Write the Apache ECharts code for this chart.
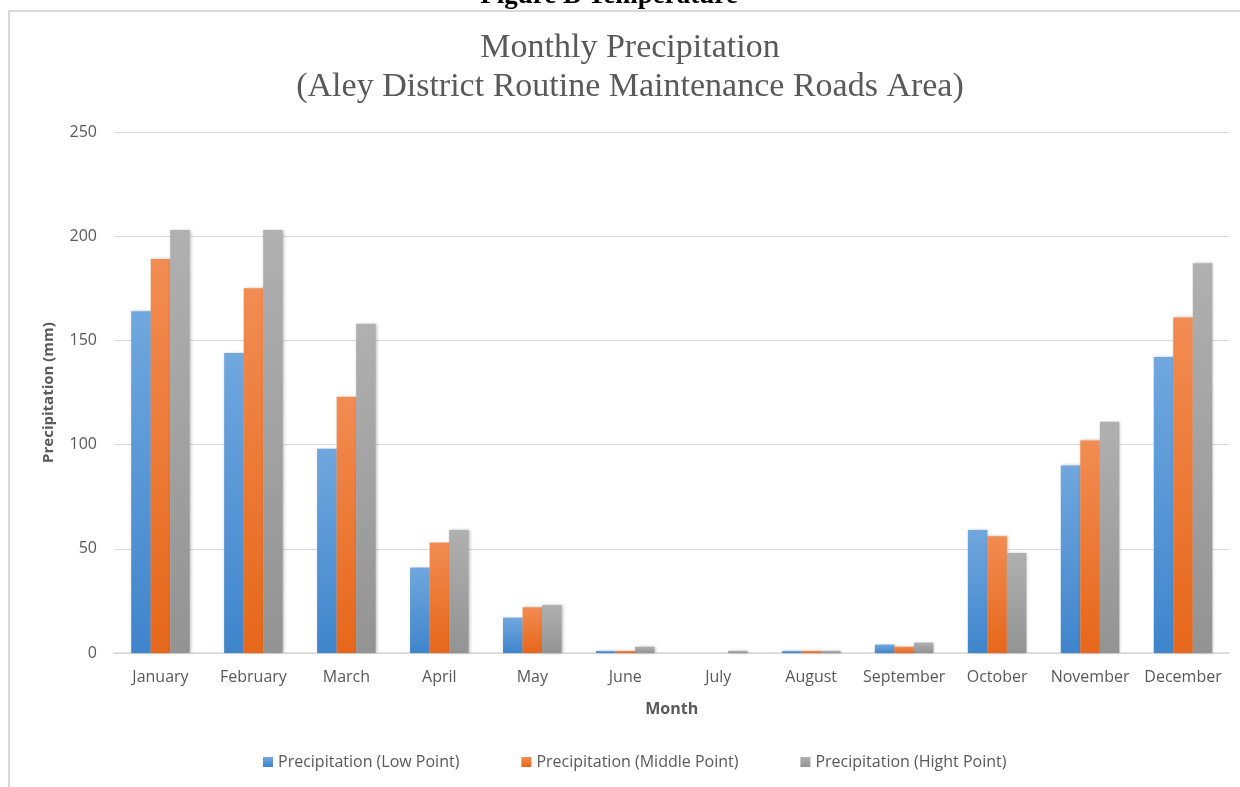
<!DOCTYPE html>
<html>
<head>
<meta charset="utf-8">
<script src="https://cdn.jsdelivr.net/npm/echarts@6/dist/echarts.min.js"></script>
<style>html,body{margin:0;padding:0;background:#fff;}#c{width:1240px;height:787px;}</style>
</head>
<body>
<div id="c"></div>
<script>
const months = ['January','February','March','April','May','June','July','August','September','October','November','December'];
const lowPoint = [164, 144, 98, 41, 17, 1, 0, 1, 4, 59, 90, 142];
const middlePoint = [189, 175, 123, 53, 22, 1, 0, 1, 3, 56, 102, 161];
const highPoint = [203, 203, 158, 59, 23, 3, 1, 1, 5, 48, 111, 187];
const seriesNames = ['Precipitation (Low Point)', 'Precipitation (Middle Point)', 'Precipitation (Hight Point)'];
const yTicks = [0, 50, 100, 150, 200, 250];

function grad(top, bottom) {
  return new echarts.graphic.LinearGradient(0, 0, 0, 1, [
    {offset: 0, color: top}, {offset: 1, color: bottom}
  ]);
}
const chart = echarts.init(document.getElementById('c'));
const barStyle = (t, b) => ({
  color: grad(t, b),
  shadowBlur: 3, shadowColor: 'rgba(0,0,0,0.25)', shadowOffsetX: 1, shadowOffsetY: 0
});
chart.setOption({
  animation: false,
  backgroundColor: '#fff',
  color: ['#5b9bd5', '#ed7d31', '#a5a5a5'],
  graphic: [
    {type: 'rect', shape: {x: 9, y: 11, width: 1400, height: 1000}, style: {fill: 'none', stroke: '#d9d9d9', lineWidth: 2}, z: -1},
    {type: 'text', x: 609, y: 10, style: {text: 'Figure B Temperature', font: 'bold 27px "Liberation Serif"', fill: '#000', textAlign: 'center', textVerticalAlign: 'bottom'}},
    {type: 'text', x: 630, y: 67.5, style: {text: 'Monthly Precipitation\n(Aley District Routine Maintenance Roads Area)', font: '34px "Liberation Serif"', lineHeight: 39, fill: '#595959', textAlign: 'center', textVerticalAlign: 'middle'}}
  ],
  legend: {
    data: seriesNames,
    bottom: 12,
    left: 258,
    itemWidth: 10, itemHeight: 10, itemGap: 62,
    icon: 'rect',
    textStyle: {fontFamily: 'Open Sans', fontSize: 16, color: '#595959'}
  },
  grid: {left: 114, right: 10.5, top: 132, bottom: 134},
  xAxis: {
    type: 'category', data: months,
    name: 'Month', nameLocation: 'middle', nameGap: 48,
    nameTextStyle: {fontFamily: 'Open Sans', fontWeight: 'bold', fontSize: 16, color: '#595959'},
    axisLine: {lineStyle: {color: '#d9d9d9', width: 1.5}},
    axisTick: {show: false},
    axisLabel: {fontFamily: 'Open Sans', fontSize: 16, color: '#595959', margin: 16, interval: 0}
  },
  yAxis: {
    type: 'value', min: 0, max: 250, interval: 50,
    name: 'Precipitation (mm)', nameLocation: 'middle', nameGap: 58, nameRotate: 90,
    nameTextStyle: {fontFamily: 'Open Sans', fontWeight: 'bold', fontSize: 15, color: '#595959'},
    axisLine: {show: false}, axisTick: {show: false},
    axisLabel: {fontFamily: 'Open Sans', fontSize: 16, color: '#595959', margin: 17,
      formatter: v => yTicks.includes(v) ? String(v) : ''},
    splitLine: {lineStyle: {color: '#d9d9d9', width: 1.2}}
  },
  series: [
    {name: seriesNames[0], type: 'bar', data: lowPoint, barGap: '0%', barCategoryGap: '37%', itemStyle: barStyle('#70a7de', '#3f85cc')},
    {name: seriesNames[1], type: 'bar', data: middlePoint, barGap: '0%', barCategoryGap: '37%', itemStyle: barStyle('#f28c52', '#e6671a')},
    {name: seriesNames[2], type: 'bar', data: highPoint, barGap: '0%', barCategoryGap: '37%', itemStyle: barStyle('#b0b0b0', '#939393')}
  ]
});
</script>
</body>
</html>
